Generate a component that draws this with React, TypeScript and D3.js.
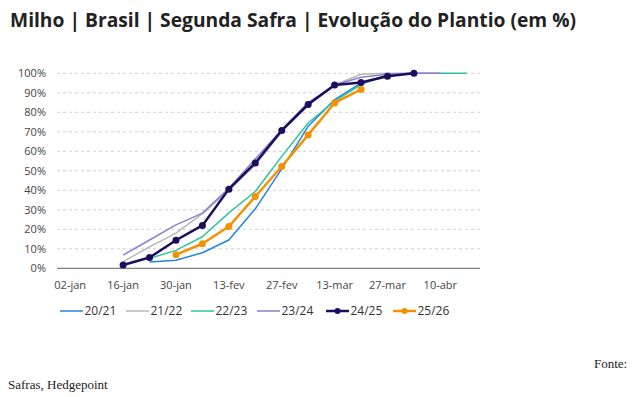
import React from "react";
import * as d3 from "d3";

const categories = ["02-jan","09-jan","16-jan","23-jan","30-jan","06-fev","13-fev","20-fev","27-fev","06-mar","13-mar","20-mar","27-mar","03-abr","10-abr","17-abr"];
const tickLabels = ["02-jan","16-jan","30-jan","13-fev","27-fev","13-mar","27-mar","10-abr"];
const yTicks = [0,0.1,0.2,0.3,0.4,0.5,0.6,0.7,0.8,0.9,1];

type V = number | null;
const s2021: V[] = [null,null,null,0.032,0.041,0.08,0.145,0.305,0.51,0.728,0.865,0.95,0.99,1,null,null];
const s2122: V[] = [null,null,0.034,0.11,0.18,0.28,0.40,0.53,0.70,0.84,0.94,0.995,1,1,null,null];
const s2223: V[] = [null,null,null,0.051,0.092,0.162,0.284,0.394,0.574,0.745,0.857,0.942,0.994,1,1,1];
const s2324: V[] = [null,null,0.068,0.145,0.223,0.283,0.41,0.56,0.71,0.85,0.94,0.98,0.995,1,1,null];
const s2425: V[] = [null,null,0.017,0.055,0.144,0.22,0.406,0.54,0.707,0.84,0.94,0.953,0.985,1,null,null];
const s2526: V[] = [null,null,null,null,0.07,0.126,0.214,0.368,0.522,0.684,0.848,0.917,null,null,null,null];

const seriesNames = ["20/21","21/22","22/23","23/24","24/25","25/26"];
const seriesData = [s2021,s2122,s2223,s2324,s2425,s2526];
const seriesColors = ["#2285de","#b8b8b8","#2fc29e","#8b7fd0","#1e0c5c","#f39200"];
const seriesWidths = [1.5,1.5,1.5,1.5,2.5,2.5];
const seriesMarkers = [false,false,false,false,true,true];

const legendX = [60,126,191,257,326,393];

export default function App() {
  const x = d3.scalePoint<string>().domain(categories).range([57,480]).padding(0.5);
  const y = d3.scaleLinear().domain([0,1]).range([268.3,73.3]);
  const font = "'Open Sans', sans-serif";
  const line = (data: V[]) =>
    d3.line<V>()
      .defined(d => d !== null)
      .x((_, i) => x(categories[i]) as number)
      .y(d => y(d as number))(data) || "";

  return (
    <svg width={637} height={397} style={{position:"absolute",left:0,top:0,background:"#fff"}}>
      <rect width={637} height={397} fill="#fff" />
      <text x={10} y={26.7} fontFamily={font} fontWeight={700} fontSize={19} fill="#222" textLength={566} lengthAdjust="spacingAndGlyphs">Milho | Brasil | Segunda Safra | Evolução do Plantio (em %)</text>
      {yTicks.map((t, i) => (
        <g key={i}>
          {t > 0 && <line x1={57} x2={480} y1={y(t)} y2={y(t)} stroke="#d0d0d0" strokeWidth={1} strokeDasharray="3,3" />}
          <text x={46} y={y(t)} dy="0.35em" textAnchor="end" fontFamily={font} fontSize={11} fill="#444">{Math.round(t*100)}%</text>
        </g>
      ))}
      <line x1={57} x2={480} y1={y(0)} y2={y(0)} stroke="#808080" strokeWidth={1.3} />
      {tickLabels.map(l => (
        <text key={l} x={x(l) as number} y={289} textAnchor="middle" fontFamily={font} fontSize={11} fill="#444">{l}</text>
      ))}
      {seriesData.map((d, si) => (
        <g key={si}>
          <path d={line(d)} fill="none" stroke={seriesColors[si]} strokeWidth={seriesWidths[si]} strokeLinejoin="round" />
          {seriesMarkers[si] && d.map((v, i) => v === null ? null : (
            <circle key={i} cx={x(categories[i]) as number} cy={y(v)} r={3.5} fill={seriesColors[si]} />
          ))}
        </g>
      ))}
      {seriesNames.map((n, i) => (
        <g key={n}>
          <line x1={legendX[i]} x2={legendX[i]+23} y1={311} y2={311} stroke={seriesColors[i]} strokeWidth={seriesWidths[i]} />
          {seriesMarkers[i] && <circle cx={legendX[i]+11.5} cy={311} r={3} fill={seriesColors[i]} />}
          <text x={legendX[i]+24.5} y={311} dy="0.35em" fontFamily={font} fontSize={12} fill="#333">{n}</text>
        </g>
      ))}
      <text x={594} y={368} fontFamily="'Liberation Serif', serif" fontSize={13} fill="#222">Fonte:</text>
      <text x={8} y={389} fontFamily="'Liberation Serif', serif" fontSize={13} fill="#222">Safras, Hedgepoint</text>
    </svg>
  );
}
